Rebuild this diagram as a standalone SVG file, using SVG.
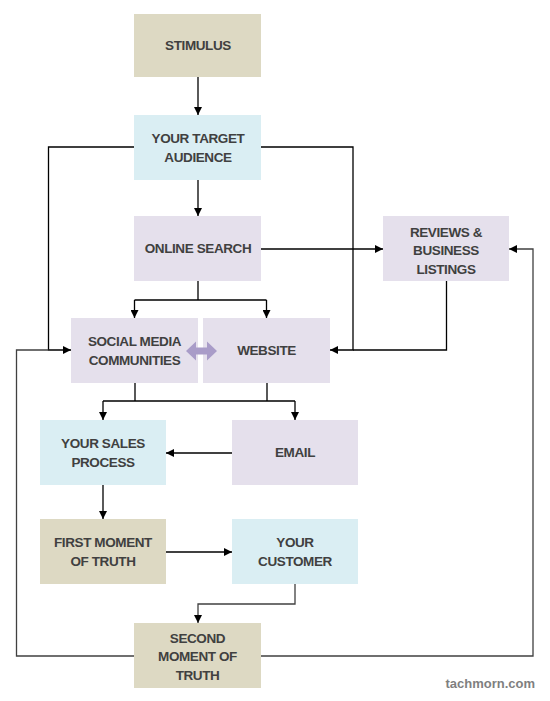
<svg xmlns="http://www.w3.org/2000/svg" width="550" height="701" viewBox="0 0 550 701">
<style>
.tan{fill:#ddd9c3}
.blue{fill:#daeef3}
.lav{fill:#e5e0ec}
.t{font-family:"Liberation Sans",Arial,sans-serif;font-weight:bold;font-size:13.5px;letter-spacing:-0.4px;fill:#404040;text-anchor:middle}
.c{fill:none;stroke:#000;stroke-width:1.3}
.g{fill:none;stroke:#404040;stroke-width:1.3}
.wm{font-family:"Liberation Sans",Arial,sans-serif;font-weight:bold;font-size:13px;fill:#7f7f7f;text-anchor:end}
</style>
<defs>
<marker id="ah" viewBox="0 0 10 10" refX="10" refY="5" markerWidth="8" markerHeight="8" markerUnits="userSpaceOnUse" orient="auto">
<path d="M0,0 L10,5 L0,10 z" fill="#000"/>
</marker>
</defs>
<rect width="550" height="701" fill="#fff"/>
<g id="stimulus"><rect class="tan" x="134" y="14" width="127" height="63"/><text class="t" x="198" y="50.4">STIMULUS</text></g>
<g id="target-audience"><rect class="blue" x="134" y="115" width="127" height="65"/><text class="t" x="198" y="143"><tspan x="198">YOUR TARGET</tspan><tspan x="198" dy="19">AUDIENCE</tspan></text></g>
<g id="online-search"><rect class="lav" x="134" y="216" width="127" height="65"/><text class="t" x="198" y="253.4">ONLINE SEARCH</text></g>
<g id="reviews"><rect class="lav" x="383" y="216" width="126" height="65"/><text class="t" x="446" y="236.5"><tspan x="446">REVIEWS &amp;</tspan><tspan x="446" dy="18.5">BUSINESS</tspan><tspan x="446" dy="18.5">LISTINGS</tspan></text></g>
<g id="social-media"><rect class="lav" x="71" y="318" width="127" height="65"/><text class="t" x="134.5" y="346"><tspan x="134.5">SOCIAL MEDIA</tspan><tspan x="134.5" dy="19">COMMUNITIES</tspan></text></g>
<g id="website"><rect class="lav" x="203" y="318" width="127" height="65"/><text class="t" x="266.5" y="355.4">WEBSITE</text></g>
<g id="sales-process"><rect class="blue" x="40" y="420" width="126" height="65"/><text class="t" x="103" y="448"><tspan x="103">YOUR SALES</tspan><tspan x="103" dy="19">PROCESS</tspan></text></g>
<g id="email"><rect class="lav" x="232" y="420" width="126" height="65"/><text class="t" x="295" y="457.4">EMAIL</text></g>
<g id="first-moment"><rect class="tan" x="40" y="519" width="126" height="65"/><text class="t" x="103" y="547"><tspan x="103">FIRST MOMENT</tspan><tspan x="103" dy="19">OF TRUTH</tspan></text></g>
<g id="your-customer"><rect class="blue" x="232" y="519" width="126" height="65"/><text class="t" x="295" y="547"><tspan x="295">YOUR</tspan><tspan x="295" dy="19">CUSTOMER</tspan></text></g>
<g id="second-moment"><rect class="tan" x="134" y="623" width="127" height="65"/><text class="t" x="197.5" y="642.5"><tspan x="197.5">SECOND</tspan><tspan x="197.5" dy="18.5">MOMENT OF</tspan><tspan x="197.5" dy="18.5">TRUTH</tspan></text></g>
<g id="connectors">
<path class="c" d="M198,77 V115" marker-end="url(#ah)"/>
<path class="c" d="M198,180 V216" marker-end="url(#ah)"/>
<path class="c" d="M134,147 H48.5 V350 H71" marker-end="url(#ah)"/>
<path class="c" d="M261,147 H353 V350 H330" marker-end="url(#ah)"/>
<path class="c" d="M446.5,281 V350 H353"/>
<path class="c" d="M261,249 H383" marker-end="url(#ah)"/>
<path class="c" d="M198,281 V300 M134.5,300 H266.5"/>
<path class="c" d="M134.5,300 V318" marker-end="url(#ah)"/>
<path class="c" d="M266.5,300 V318" marker-end="url(#ah)"/>
<path class="c" d="M135,383 V401 M267,383 V401 M103,401 H295"/>
<path class="c" d="M103,401 V420" marker-end="url(#ah)"/>
<path class="c" d="M295,401 V420" marker-end="url(#ah)"/>
<path class="c" d="M232,453 H166" marker-end="url(#ah)"/>
<path class="c" d="M103,485 V519" marker-end="url(#ah)"/>
<path class="c" d="M166,552 H232" marker-end="url(#ah)"/>
<path class="g" d="M295,584 V604 H198 V623" marker-end="url(#ah)"/>
<path class="g" d="M134,656 H16.5 V350 H48.5"/>
<path class="g" d="M261,656 H533 V249 H509" marker-end="url(#ah)"/>
<path d="M186,351 L196,341.5 V347.5 H207 V341.5 L217,351 L207,360.5 V354.5 H196 V360.5 z" fill="#a99cc8"/>
</g>
<text class="wm" x="535" y="688">tachmorn.com</text>
</svg>
